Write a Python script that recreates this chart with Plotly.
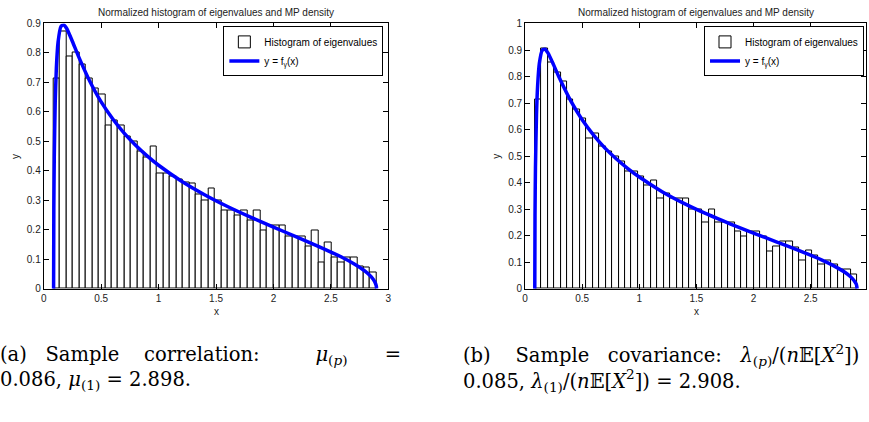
import plotly.graph_objects as go

W, H = 869, 422

# ---------------- data ----------------
left_bin_start = 0.086
left_bin_width = 0.05624
left_heights = [0.715, 0.874, 0.787, 0.800, 0.760, 0.715, 0.680, 0.660, 0.554, 0.572,
                0.553, 0.516, 0.500, 0.464, 0.446, 0.483, 0.390, 0.390, 0.380, 0.370,
                0.360, 0.356, 0.320, 0.300, 0.340, 0.300, 0.266, 0.266, 0.250, 0.266,
                0.230, 0.266, 0.197, 0.213, 0.213, 0.213, 0.176, 0.176, 0.176, 0.143,
                0.197, 0.090, 0.158, 0.107, 0.090, 0.107, 0.107, 0.075, 0.072, 0.054]

right_bin_start = 0.085
right_bin_width = 0.05646
right_heights = [0.712, 0.905, 0.852, 0.816, 0.783, 0.712, 0.675, 0.641, 0.568, 0.586,
                 0.535, 0.516, 0.498, 0.480, 0.443, 0.443, 0.425, 0.388, 0.407, 0.340,
                 0.359, 0.340, 0.340, 0.340, 0.300, 0.300, 0.249, 0.300, 0.249, 0.249,
                 0.249, 0.214, 0.197, 0.214, 0.214, 0.197, 0.142, 0.160, 0.177, 0.177,
                 0.157, 0.107, 0.144, 0.126, 0.090, 0.107, 0.090, 0.074, 0.074, 0.055]

left_curve_x = [0.086, 0.088, 0.092, 0.10, 0.11, 0.125, 0.15, 0.175, 0.20, 0.25, 0.30, 0.40,
                0.50, 0.60, 0.70, 0.80, 0.90, 1.00, 1.20, 1.40, 1.60, 1.80, 2.00, 2.20,
                2.40, 2.60, 2.70, 2.80, 2.85, 2.88, 2.895, 2.898]
left_curve_y = [0.0, 0.271, 0.449, 0.630, 0.749, 0.837, 0.890, 0.895, 0.883, 0.839, 0.791, 0.705,
                0.634, 0.577, 0.528, 0.487, 0.451, 0.419, 0.365, 0.319, 0.279, 0.243, 0.209, 0.176,
                0.142, 0.106, 0.085, 0.059, 0.041, 0.025, 0.010, 0.0]

right_curve_x = [0.085, 0.087, 0.091, 0.10, 0.11, 0.125, 0.15, 0.175, 0.20, 0.25, 0.30, 0.40,
                 0.50, 0.60, 0.70, 0.80, 0.90, 1.00, 1.20, 1.40, 1.60, 1.80, 2.00, 2.20,
                 2.40, 2.60, 2.70, 2.80, 2.85, 2.88, 2.90, 2.908]
right_curve_y = [0.0, 0.275, 0.455, 0.654, 0.766, 0.850, 0.899, 0.903, 0.889, 0.844, 0.795, 0.708,
                 0.637, 0.579, 0.530, 0.489, 0.453, 0.421, 0.366, 0.320, 0.280, 0.244, 0.210, 0.177,
                 0.144, 0.108, 0.087, 0.062, 0.045, 0.031, 0.017, 0.0]

x_ticks = [0, 0.5, 1, 1.5, 2, 2.5, 3]
left_y_ticks = [0, 0.1, 0.2, 0.3, 0.4, 0.5, 0.6, 0.7, 0.8, 0.9]
right_y_ticks = [0, 0.1, 0.2, 0.3, 0.4, 0.5, 0.6, 0.7, 0.8, 0.9, 1]

title_text = "Normalized histogram of eigenvalues and MP density"
hist_name = "Histogram of eigenvalues"
curve_name = "y = f<sub>γ</sub>(x)"

NB = "\u00a0"
caption_a = ("(a)" + NB * 3 + "Sample" + NB * 4 + "correlation:" + NB * 9 +
             "<i>μ</i><sub>(<i>p</i>)</sub>" + NB * 6 + "=" +
             "<br>0.086, <i>μ</i><sub>(1)</sub> = 2.898.")
caption_b = ("(b)" + NB * 4 + "Sample" + NB * 3 + "covariance:" + NB * 3 +
             "<i>λ</i><sub>(<i>p</i>)</sub>/(<i>n</i>𝔼[<i>X</i><sup>2</sup>])" +
             "<br>0.085, <i>λ</i><sub>(1)</sub>/(<i>n</i>𝔼[<i>X</i><sup>2</sup>]) = 2.908.")

# ---------------- layout geometry (pixels) ----------------
L_x0, L_x1 = 41, 388
R_x0 = 525.7
R_scale = 115.0
P_top, P_bot = 18, 291

def px(x):
    return x / W

def py(y):
    return 1 - y / H

fig = go.Figure()

left_centers = [left_bin_start + left_bin_width * (i + 0.5) for i in range(len(left_heights))]
right_centers = [right_bin_start + right_bin_width * (i + 0.5) for i in range(len(right_heights))]

fig.add_trace(go.Bar(x=left_centers, y=left_heights, width=left_bin_width,
                     marker=dict(color="white", line=dict(color="black", width=1)),
                     name=hist_name, xaxis="x", yaxis="y", legend="legend"))
fig.add_trace(go.Scatter(x=left_curve_x, y=left_curve_y, mode="lines",
                         line=dict(color="#0000FF", width=3.5, shape="spline", smoothing=0.6),
                         name=curve_name, xaxis="x", yaxis="y", legend="legend"))
fig.add_trace(go.Bar(x=right_centers, y=right_heights, width=right_bin_width,
                     marker=dict(color="white", line=dict(color="black", width=1)),
                     name=hist_name, xaxis="x2", yaxis="y2", legend="legend2"))
fig.add_trace(go.Scatter(x=right_curve_x, y=right_curve_y, mode="lines",
                         line=dict(color="#0000FF", width=3.5, shape="spline", smoothing=0.6),
                         name=curve_name, xaxis="x2", yaxis="y2", legend="legend2"))

tickfont = dict(family="Liberation Sans, Arial, sans-serif", size=10, color="#222222")
axis_common = dict(showline=True, linecolor="black", linewidth=1, mirror="ticks",
                   ticks="inside", ticklen=5, tickcolor="black", tickwidth=1,
                   showgrid=False, zeroline=False, tickfont=tickfont)

r_right_val = (W - R_x0) / R_scale

legend_common = dict(yanchor="top", xanchor="right",
                     bgcolor="white", bordercolor="black", borderwidth=1,
                     font=dict(family="Liberation Sans, Arial, sans-serif", size=10, color="black"),
                     itemwidth=30, tracegroupgap=0)

fig.update_layout(
    width=W, height=H,
    margin=dict(l=0, r=0, t=0, b=0),
    paper_bgcolor="white", plot_bgcolor="white",
    bargap=0, barmode="overlay",
    xaxis=dict(domain=[px(L_x0), px(L_x1)], range=[0, 3], tickvals=x_ticks,
               ticktext=[str(t) for t in x_ticks], anchor="y", **axis_common),
    yaxis=dict(domain=[py(P_bot), py(P_top)], range=[0, 0.9], tickvals=left_y_ticks,
               ticktext=[str(t) for t in left_y_ticks], anchor="x", **axis_common),
    xaxis2=dict(domain=[px(R_x0), 1], range=[0, r_right_val], tickvals=x_ticks,
                ticktext=[str(t) for t in x_ticks], anchor="y2", **axis_common),
    yaxis2=dict(domain=[py(P_bot), py(P_top)], range=[0, 1], tickvals=right_y_ticks,
                ticktext=[str(t) for t in right_y_ticks], anchor="x2", **axis_common),
    legend=dict(x=px(383), y=py(21), **legend_common),
    legend2=dict(x=px(867), y=py(21), **legend_common),
    showlegend=True,
)

small = dict(family="Liberation Sans, Arial, sans-serif", size=10, color="#222222")
ann = []
ann.append(dict(text=title_text, x=px((L_x0 + L_x1) / 2), y=py(7), xref="paper", yref="paper",
                showarrow=False, font=small, xanchor="center", yanchor="middle"))
ann.append(dict(text=title_text, x=px(R_x0 + 1.5 * R_scale), y=py(7), xref="paper", yref="paper",
                showarrow=False, font=small, xanchor="center", yanchor="middle"))
ann.append(dict(text="x", x=px((L_x0 + L_x1) / 2), y=py(314), xref="paper", yref="paper",
                showarrow=False, font=small, xanchor="center", yanchor="middle"))
ann.append(dict(text="x", x=px(R_x0 + 1.5 * R_scale), y=py(314), xref="paper", yref="paper",
                showarrow=False, font=small, xanchor="center", yanchor="middle"))
ann.append(dict(text="y", x=px(12), y=py((P_top + P_bot) / 2), xref="paper", yref="paper",
                showarrow=False, font=small, textangle=-90, xanchor="center", yanchor="middle"))
ann.append(dict(text="y", x=px(497), y=py((P_top + P_bot) / 2), xref="paper", yref="paper",
                showarrow=False, font=small, textangle=-90, xanchor="center", yanchor="middle"))

serif = dict(family="DejaVu Serif, Liberation Serif, serif", size=19.5, color="black")
ann.append(dict(text=caption_a, x=px(-4), y=py(373), xref="paper", yref="paper", showarrow=False,
                font=serif, xanchor="left", yanchor="middle", align="left", borderpad=0))
ann.append(dict(text=caption_b, x=px(462), y=py(373), xref="paper", yref="paper", showarrow=False,
                font=serif, xanchor="left", yanchor="middle", align="left", borderpad=0))

fig.update_layout(annotations=ann)

fig.write_html("out.html")
